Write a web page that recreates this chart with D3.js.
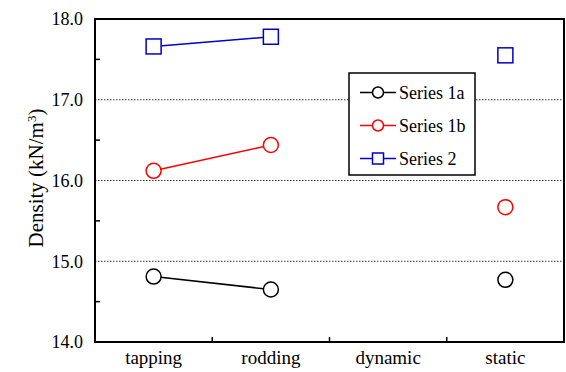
<!DOCTYPE html>
<html>
<head>
<meta charset="utf-8">
<script src="https://cdn.jsdelivr.net/npm/d3@7"></script>
<style>
  body { margin: 0; background: #fff; }
  svg { display: block; }
</style>
</head>
<body>
<svg id="chart"></svg>
<script>
const categories = ["tapping", "rodding", "dynamic", "static"];
const series1a = [14.81, 14.65, null, 14.77];
const series1b = [16.12, 16.44, null, 15.67];
const series2 = [17.66, 17.78, null, 17.55];
const yTicks = [14, 15, 16, 17, 18];
const yMinorTicks = [14.5, 15.5, 16.5, 17.5];
const seriesNames = ["Series 1a", "Series 1b", "Series 2"];

const FONT = "'Liberation Serif', 'Times New Roman', serif";
const width = 566, height = 372;
const margin = { top: 19, right: 2, bottom: 30, left: 95 };
const innerW = width - margin.left - margin.right;
const innerH = height - margin.top - margin.bottom;

const svg = d3.select("#chart").attr("width", width).attr("height", height)
    .style("font-family", FONT);
const g = svg.append("g").attr("transform", `translate(${margin.left},${margin.top})`);

const x = d3.scaleBand().domain(categories).range([0, innerW]);
const y = d3.scaleLinear().domain([14, 18]).range([innerH, 0]);

// dotted gridlines
g.selectAll(".grid")
    .data(yTicks.filter(d => d > 14 && d < 18))
    .join("line")
    .attr("x1", 0).attr("x2", innerW)
    .attr("y1", d => y(d)).attr("y2", d => y(d))
    .attr("stroke", "#000")
    .attr("stroke-width", 0.8)
    .attr("stroke-dasharray", "1.5,1.5");

// y axis labels
const yAxis = g.append("g")
    .call(d3.axisLeft(y).tickValues(yTicks).tickFormat(d3.format(".1f")).tickSize(0).tickPadding(12));
yAxis.select(".domain").remove();
yAxis.attr("font-family", null);
yAxis.selectAll("text").style("font-family", FONT).style("font-size", "18px").attr("fill", "#000");

// minor ticks on y (inside)
g.selectAll(".ytick")
    .data(yMinorTicks)
    .join("line")
    .attr("x1", 0).attr("x2", 5)
    .attr("y1", d => y(d)).attr("y2", d => y(d))
    .attr("stroke", "#000").attr("stroke-width", 1.5);

// x axis labels
const xAxis = g.append("g")
    .attr("transform", `translate(0,${innerH})`)
    .call(d3.axisBottom(x).tickSize(0).tickPadding(9));
xAxis.select(".domain").remove();
xAxis.attr("font-family", null);
xAxis.selectAll("text").style("font-family", FONT).style("font-size", "19px").attr("fill", "#000");

// x ticks at band boundaries (inside)
g.selectAll(".xtick")
    .data(categories.slice(1))
    .join("line")
    .attr("x1", d => x(d)).attr("x2", d => x(d))
    .attr("y1", innerH).attr("y2", innerH - 5)
    .attr("stroke", "#000").attr("stroke-width", 1.5);

// frame
g.append("rect")
    .attr("width", innerW).attr("height", innerH)
    .attr("fill", "none").attr("stroke", "#000").attr("stroke-width", 2);

// y title
svg.append("text")
    .attr("transform", `translate(43,178) rotate(-90)`)
    .attr("text-anchor", "middle")
    .style("font-family", FONT)
    .style("font-size", "21px")
    .html('Density (kN/m<tspan baseline-shift="super" font-size="13">3</tspan>)');

const seriesList = [
    { name: seriesNames[0], values: series1a, color: "#000", shape: "circle" },
    { name: seriesNames[1], values: series1b, color: "#f00", shape: "circle" },
    { name: seriesNames[2], values: series2, color: "#00c", shape: "square" }
];

const line = d3.line()
    .defined(d => d.v != null)
    .x(d => x(d.c) + x.bandwidth() / 2)
    .y(d => y(d.v));

function drawMarker(sel, shape, color, r) {
    if (shape === "circle") {
        sel.append("circle").attr("r", r)
            .attr("fill", "#fff").attr("stroke", color).attr("stroke-width", 1.5);
    } else {
        sel.append("rect").attr("x", -r).attr("y", -r).attr("width", 2 * r).attr("height", 2 * r)
            .attr("fill", "#fff").attr("stroke", color).attr("stroke-width", 1.5);
    }
}

seriesList.forEach(s => {
    const pts = categories.map((c, i) => ({ c, v: s.values[i] }));
    g.append("path")
        .datum(pts)
        .attr("d", line)
        .attr("fill", "none")
        .attr("stroke", s.color)
        .attr("stroke-width", 1.5);
    pts.filter(d => d.v != null).forEach(d => {
        const m = g.append("g")
            .attr("transform", `translate(${x(d.c) + x.bandwidth() / 2},${y(d.v)})`);
        drawMarker(m, s.shape, s.color, 7.5);
    });
});

// legend
const legend = svg.append("g").attr("transform", "translate(349,73)");
legend.append("rect")
    .attr("width", 126).attr("height", 102)
    .attr("fill", "#fff").attr("stroke", "#000").attr("stroke-width", 1.5);
seriesList.forEach((s, i) => {
    const row = legend.append("g").attr("transform", `translate(0,${19.5 + i * 33})`);
    row.append("line").attr("x1", 11).attr("x2", 47)
        .attr("stroke", s.color).attr("stroke-width", 1.5);
    const m = row.append("g").attr("transform", "translate(29,0)");
    drawMarker(m, s.shape, s.color, 5.5);
    row.append("text").attr("x", 50).attr("dy", "0.35em")
        .style("font-family", FONT)
        .style("font-size", "18px").text(s.name);
});
</script>
</body>
</html>
